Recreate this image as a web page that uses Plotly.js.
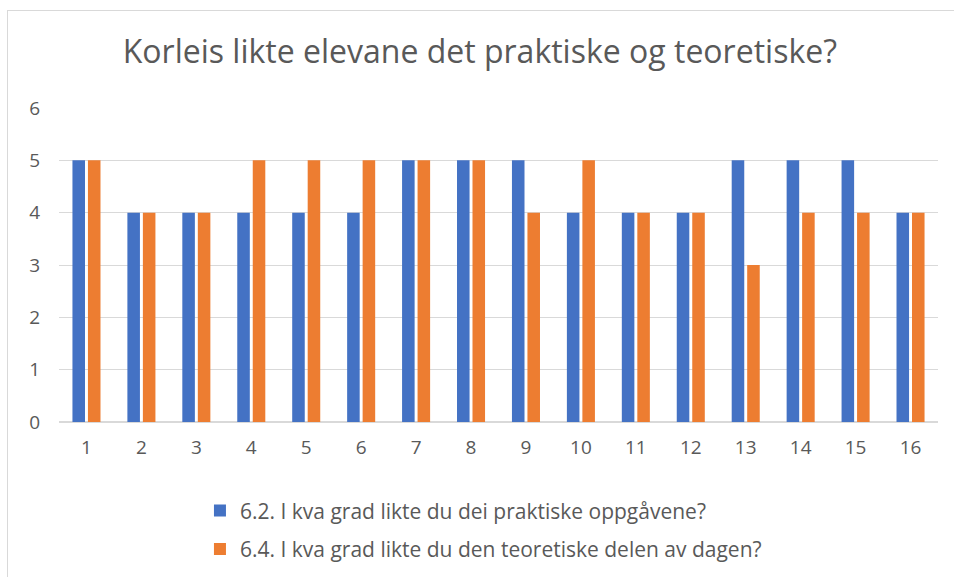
<!DOCTYPE html>
<html>
<head>
<meta charset="utf-8">
<script src="https://cdn.plot.ly/plotly-3.0.1.min.js"></script>
<style>
html,body{margin:0;padding:0;background:#fff;overflow:hidden;}
#frame{position:absolute;left:7px;top:10px;width:1000px;height:700px;border-left:1.5px solid #d9d9d9;border-top:1.5px solid #d9d9d9;}
#chart{position:absolute;left:0;top:0;width:954px;height:577px;}
</style>
</head>
<body>
<div id="frame"></div>
<div id="chart"></div>
<script>
const categories = ["1","2","3","4","5","6","7","8","9","10","11","12","13","14","15","16"];
const practicalValues = [5,4,4,4,4,4,5,5,5,4,4,4,5,5,5,4];
const theoryValues = [5,4,4,5,5,5,5,5,4,5,4,4,3,4,4,4];
const seriesNames = [
  "6.2. I kva grad likte du dei praktiske oppgåvene?",
  "6.4. I kva grad likte du den teoretiske delen av dagen?"
];
const chartTitle = "Korleis likte elevane det praktiske og teoretiske?";

const font = "Open Sans, sans-serif";
const traces = [
  {type:"bar", x:categories, y:practicalValues, name:seriesNames[0], legendgroup:"a",
   marker:{color:"#4472C4", line:{width:0}}},
  {type:"bar", x:categories, y:theoryValues, name:seriesNames[1], legendgroup:"b",
   marker:{color:"#ED7D31", line:{width:0}}}
];
const layout = {
  width:954, height:577,
  paper_bgcolor:"rgba(0,0,0,0)", plot_bgcolor:"rgba(0,0,0,0)",
  margin:{l:59, r:16, t:108, b:155, autoexpand:false},
  font:{family:font, color:"#595959"},
  title:{text:chartTitle, font:{family:font, size:32, color:"#595959"},
         xref:"container", x:0.503, xanchor:"center", yref:"container", y:0.91, yanchor:"middle"},
  barmode:"group", bargap:0.436, bargroupgap:0.19,
  xaxis:{type:"category", showgrid:false, zeroline:false, showline:false, ticks:"",
         tickfont:{size:19, color:"#595959"}, ticklabelstandoff:12},
  yaxis:{range:[0,6], dtick:1, showgrid:true, gridcolor:"#d9d9d9", gridwidth:1,
         zeroline:true, zerolinecolor:"#d9d9d9", zerolinewidth:1.5, showline:false, ticks:"",
         tickfont:{size:19, color:"#595959"}, ticklabelstandoff:18},
  showlegend:true,
  legend:{orientation:"v", xref:"container", yref:"container", x:0.2096, xanchor:"left",
          y:0.0815, yanchor:"middle", font:{size:21, color:"#595959"}, tracegroupgap:8,
          itemwidth:30}
};
Plotly.newPlot("chart", traces, layout, {displayModeBar:false, staticPlot:true});
</script>
</body>
</html>
